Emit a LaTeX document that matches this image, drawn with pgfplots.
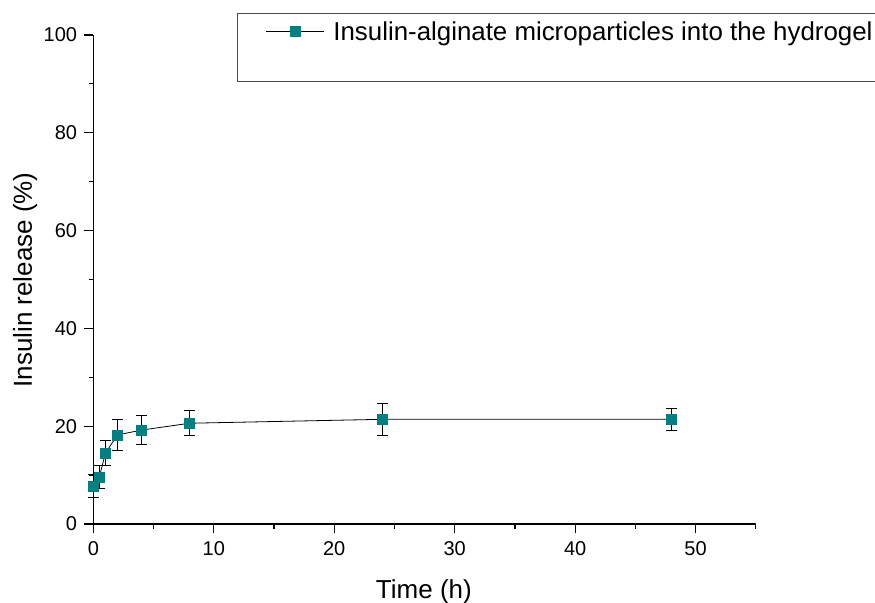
\documentclass[border=0pt]{standalone}
\usepackage{pgfplots}
\pgfplotsset{compat=1.18}
\usepackage{fontspec}
\setmainfont{Liberation Sans}
\definecolor{teal0}{RGB}{0,128,128}
\begin{document}
\begin{tikzpicture}
\begin{axis}[
  at={(0,0)}, anchor=south west,
  scale only axis,
  width=496.9pt, height=366.75pt,
  xmin=0, xmax=55, ymin=0, ymax=100,
  axis x line=bottom, axis y line=left,
  axis line style={line width=1pt, -},
  xtick={0,10,20,30,40,50},
  ytick={0,20,40,60,80,100},
  minor xtick={5,15,25,35,45,55},
  minor ytick={10,30,50,70,90},
  xtick pos=bottom, ytick pos=left,
  xtick align=outside, ytick align=outside,
  major tick length=7pt, minor tick length=3.5pt,
  every tick/.style={black, line width=0.9pt},
  /pgf/number format/assume math mode=true,
  ticklabel style={font=\fontsize{15}{18}\selectfont},
  xticklabel style={inner sep=0pt, anchor=north, yshift=-6pt},
  yticklabel style={inner sep=0pt, anchor=east, xshift=-5pt},
  xlabel={Time (h)},
  ylabel={Insulin release (\%)},
  label style={font=\fontsize{19.5}{23}\selectfont},
  xlabel style={at={(rel axis cs:0.499,0)}, anchor=base, yshift=-56.25pt, inner sep=0pt},
  ylabel style={at={(rel axis cs:0,0.499)}, anchor=base, rotate=0, yshift=46pt, inner sep=0pt},
  clip=false,
  legend style={at={(rel axis cs:0.217,1.0456)}, anchor=north west,
    draw=black!70, line width=0.8pt, fill=white,
    inner xsep=21pt, inner ysep=0pt,
    column sep=6.75pt,
    cells={anchor=base west},
    nodes={inner sep=0pt, text height=20.5pt, text depth=30.75pt},
    font=\fontsize{19.4}{22}\selectfont},
  legend image code/.code={%
    \draw[#1, mark repeat=2, mark phase=2, yshift=6.75pt] plot coordinates {(0pt,0pt)(21.75pt,0pt)(43.5pt,0pt)};},
]
\addplot[black, line width=0.6pt, mark=square*, mark size=3.75pt,
  mark options={solid, fill=teal0, draw=teal0, line width=0.3pt},
  error bars/.cd, y dir=both, y explicit,
  error bar style={black, line width=0.7pt},
  error mark options={rotate=90, mark size=4pt, black, line width=0.7pt}]
coordinates {
  (0,7.8) +- (0,2.4)
  (0.5,9.6) +- (0,2.3)
  (1,14.5) +- (0,2.5)
  (2,18.2) +- (0,3.1)
  (4,19.2) +- (0,3.0)
  (8,20.6) +- (0,2.6)
  (24,21.4) +- (0,3.3)
  (48,21.4) +- (0,2.3)
};
\addlegendentry{Insulin-alginate microparticles into the hydrogel}
\end{axis}
\pgfresetboundingbox
\useasboundingbox (-70pt,-59.25pt) rectangle (586.3pt,393pt);
\end{tikzpicture}
\end{document}
